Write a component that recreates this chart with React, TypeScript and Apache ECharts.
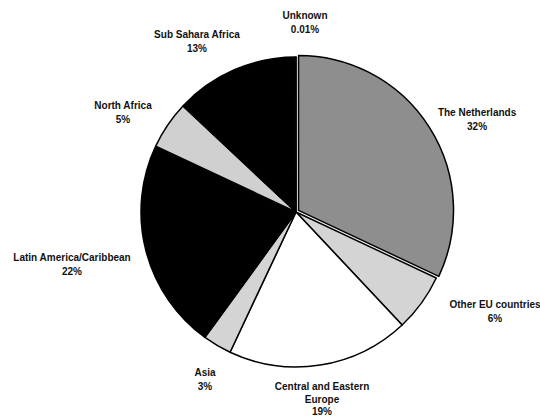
import { useEffect, useRef } from 'react';
import * as echarts from 'echarts';

const categories = [
  'The Netherlands',
  'Other EU countries',
  'Central and Eastern\nEurope',
  'Asia',
  'Latin America/Caribbean',
  'North Africa',
  'Sub Sahara Africa',
  'Unknown',
];
const shares = [32, 6, 19, 3, 22, 5, 13, 0.01];
const shareLabels = ['32%', '6%', '19%', '3%', '22%', '5%', '13%', '0.01%'];

const sliceColors = ['#8e8e8e', '#d4d4d4', '#ffffff', '#d4d4d4', '#000000', '#d0d0d0', '#000000', '#ffffff'];
const labelX = [498, 495, 322, 205, 72, 123, 197, 305];
const labelY = [105, 311, 399, 379, 264, 112, 41, 22];

export default function App() {
  const ref = useRef<HTMLDivElement>(null);
  useEffect(() => {
    if (!ref.current) return;
    const chart = echarts.init(ref.current, null, { renderer: 'svg' });
    chart.setOption({
      animation: false,
      backgroundColor: '#ffffff',
      series: [
        {
          type: 'pie',
          center: [296, 212],
          radius: 155,
          startAngle: 90,
          clockwise: true,
          selectedMode: 'single',
          selectedOffset: 3,
          avoidLabelOverlap: false,
          emphasis: { disabled: true },
          itemStyle: { borderColor: '#000000', borderWidth: 1.5 },
          label: {
            show: true,
            color: '#111111',
            fontFamily: 'Liberation Sans, Arial, sans-serif',
            fontSize: 10,
            fontWeight: 'bold',
            lineHeight: 14,
            align: 'center',
            formatter: (p: any) => `${p.name}\n${shareLabels[p.dataIndex]}`,
          },
          labelLine: { show: false },
          labelLayout: (p: any) => ({
            x: labelX[p.dataIndex],
            y: labelY[p.dataIndex],
            align: 'center',
            verticalAlign: 'middle',
          }),
          data: categories.map((name, i) => ({
            name,
            value: shares[i],
            selected: i === 0,
            itemStyle: { color: sliceColors[i] },
            label: i === 2 ? { lineHeight: 12.5 } : undefined,
          })),
        },
      ],
    });
    return () => chart.dispose();
  }, []);
  return (
    <div
      ref={ref}
      style={{ position: 'fixed', left: 0, top: 0, width: 540, height: 419, background: '#fff' }}
    />
  );
}
